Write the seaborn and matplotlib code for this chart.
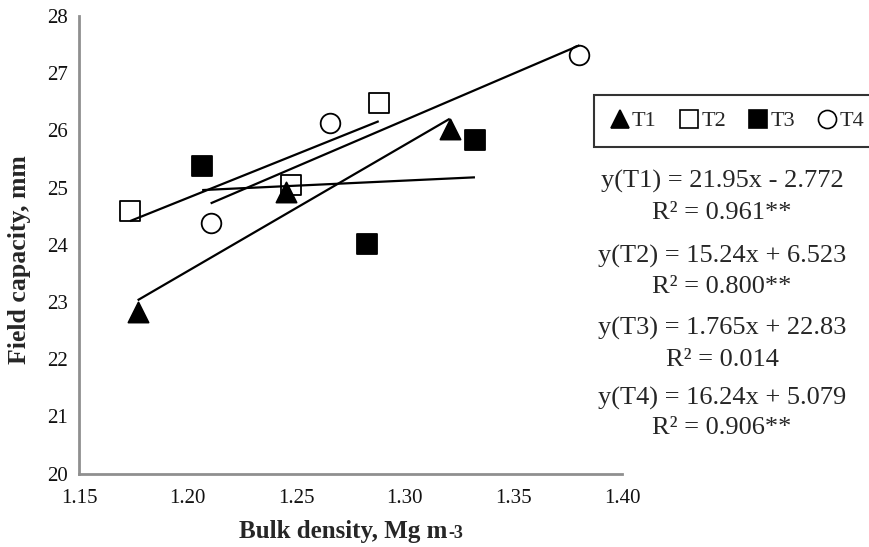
import numpy as np
import pandas as pd
import seaborn as sns
import matplotlib
matplotlib.use("Agg")
import matplotlib.pyplot as plt
from matplotlib.lines import Line2D

# ---- data ----
groups = ["T1", "T2", "T3", "T4"]
t1_x = [1.177, 1.2455, 1.3207]
t1_y = [22.83, 24.93, 26.02]
t2_x = [1.1735, 1.2475, 1.288]
t2_y = [24.59, 25.05, 26.48]
t3_x = [1.2067, 1.2828, 1.3323]
t3_y = [25.38, 24.02, 25.83]
t4_x = [1.2106, 1.2655, 1.3804]
t4_y = [24.375, 26.135, 27.32]

equations = ["y(T1) = 21.95x - 2.772", "R² = 0.961**",
             "y(T2) = 15.24x + 6.523", "R² = 0.800**",
             "y(T3) = 1.765x + 22.83", "R² = 0.014",
             "y(T4) = 16.24x + 5.079", "R² = 0.906**"]

x_ticks = [1.15, 1.20, 1.25, 1.30, 1.35, 1.40]
y_ticks = [20, 21, 22, 23, 24, 25, 26, 27, 28]

xs = [t1_x, t2_x, t3_x, t4_x]
ys = [t1_y, t2_y, t3_y, t4_y]
df = pd.concat([pd.DataFrame({"x": a, "y": b, "g": g}) for a, b, g in zip(xs, ys, groups)],
               ignore_index=True)

# ---- style ----
sns.set_style("white")
plt.rcParams["font.family"] = ["Liberation Serif", "DejaVu Serif"]

W, H = 870, 547
fig = plt.figure(figsize=(W / 100, H / 100), dpi=100)
ax = fig.add_axes([79 / W, 1 - 473.7 / H, (622 - 79) / W, (473.7 - 16) / H])

markers = {"T1": "^", "T2": "s", "T3": "s", "T4": "o"}
faces = {"T1": "black", "T2": "white", "T3": "black", "T4": "white"}
sizes = {"T1": 210, "T2": 190, "T3": 190, "T4": 200}

for g in reversed(groups):
    sub = df[df["g"] == g]
    sns.scatterplot(data=sub, x="x", y="y", ax=ax, marker=markers[g], s=sizes[g],
                    facecolor=faces[g], edgecolor="black", linewidth=1.3, zorder=3,
                    legend=False)
for g in groups:
    sub = df[df["g"] == g]
    sns.regplot(data=sub, x="x", y="y", ax=ax, scatter=False, ci=None, truncate=True,
                color="black", line_kws={"lw": 1.6, "solid_capstyle": "butt", "zorder": 4})

ax.set_xlim(1.15, 1.40)
ax.set_ylim(20, 28)
ax.set_xticks(x_ticks)
ax.set_xticklabels([f"{v:.2f}" for v in x_ticks])
ax.set_yticks(y_ticks)
ax.set_yticklabels([str(v) for v in y_ticks])
ax.set_xlabel("")
ax.set_ylabel("")

for s in ["top", "right"]:
    ax.spines[s].set_visible(False)
for s in ["left", "bottom"]:
    ax.spines[s].set_color("#8f8f8f")
    ax.spines[s].set_linewidth(2.0)
ax.tick_params(axis="both", direction="out", length=5, width=1.2, color="#8f8f8f",
               labelsize=15, labelcolor="#111111")
ax.tick_params(axis="x", pad=6)
ax.tick_params(axis="y", pad=3)
ax.patch.set_alpha(0)

# axis labels
fig.text(20 / W, 1 - 260 / H, "Field capacity, mm", rotation=90, ha="center", va="center",
         fontsize=18.5, fontweight="bold")
fig.text(447 / W, 1 - 538 / H, "Bulk density, Mg m", ha="right", va="baseline",
         fontsize=18, fontweight="bold")
fig.text(448 / W, 1 - 538 / H, "-3", ha="left", va="baseline",
         fontsize=13, fontweight="bold")

# legend
handles = [Line2D([], [], ls="none", marker=markers[g], markersize=13,
                  markerfacecolor=faces[g], markeredgecolor="black", markeredgewidth=1.2)
           for g in groups]
leg = fig.legend(handles, groups, loc="center", bbox_to_anchor=(737 / W, 1 - 121 / H),
                 ncol=4, frameon=True, fancybox=False, fontsize=16, handlelength=0.9,
                 handletextpad=0.1, columnspacing=1.0, borderpad=0.7)
leg.get_frame().set_edgecolor("black")
leg.get_frame().set_linewidth(1.5)

# equations
eq_y = [181.7, 213, 256.7, 286.7, 328, 360, 398, 428]
for txt, yy in zip(equations, eq_y):
    fig.text(722 / W, 1 - yy / H, txt, ha="center", va="center", fontsize=19)

fig.savefig("out.png", dpi=100)
